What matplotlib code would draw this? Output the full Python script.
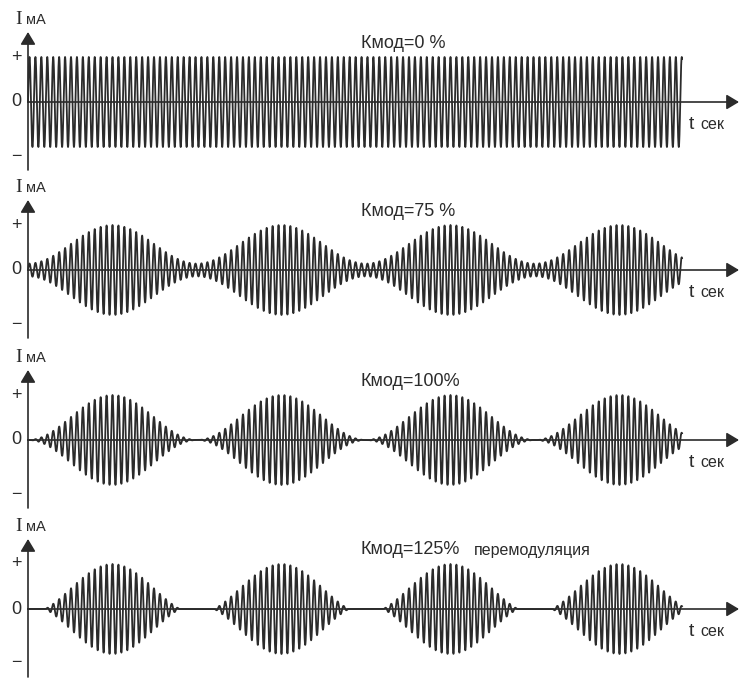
import numpy as np
import matplotlib
matplotlib.use("Agg")
import matplotlib.pyplot as plt

# modulation depth of each trace (fraction) and its caption
mod_depth = [0.0, 0.75, 1.0, 1.25]
titles = ["Кмод=0 %", "Кмод=75 %", "Кмод=100%", "Кмод=125%"]
title_suffix = ["", "", "", "перемодуляция"]

n_env = 3.87            # envelope periods drawn
carrier_per_env = 28.5  # carrier cycles per envelope period
tick_vals = [1.0, 0.0, -1.2]
tick_text = ["+", "0", "\u2212"]

W, H = 740, 687
zero_px = [102, 270, 440, 609]   # baseline of each trace, px from top
x0_px, x1_px = 28, 682
amp_px = 45.0
band_up, band_dn = 102, 68

ink = "#2b2b2b"
plt.rcParams["font.family"] = ["Liberation Sans", "DejaVu Sans"]

fig = plt.figure(figsize=(W / 100, H / 100), dpi=100)
px_per_t = (x1_px - x0_px) / n_env

t = np.linspace(0, n_env, 40000)


def px_x(px):
    return (px - x0_px) / px_per_t


arrow = dict(arrowstyle="-|>,head_length=0.5,head_width=0.3", color=ink,
             lw=1.2, mutation_scale=15, shrinkA=0, shrinkB=0)

for i, m in enumerate(mod_depth):
    z = zero_px[i]
    ax = fig.add_axes([0, 1 - (z + band_dn) / H, 1, (band_up + band_dn) / H])
    ax.set_xlim(px_x(0), px_x(W))
    ax.set_ylim(-band_dn / amp_px, band_up / amp_px)
    ax.axis("off")

    env = np.clip(1 - m * np.cos(2 * np.pi * t), 0, None) / (1 + m)
    sig = env * np.sin(2 * np.pi * carrier_per_env * t)
    ax.plot(t, sig, color=ink, lw=1.3)

    # axes with arrowheads
    ax.annotate("", xy=(px_x(739), 0), xytext=(0, 0), arrowprops=arrow)
    ax.annotate("", xy=(0, 70 / amp_px), xytext=(0, -band_dn / amp_px),
                arrowprops=arrow)

    for v, s in zip(tick_vals, tick_text):
        ax.text(px_x(16), v, s, ha="center", va="center", fontsize=13,
                color=ink)

    ax.text(px_x(19), 78 / amp_px, "I", ha="center", va="baseline",
            fontsize=14, family="Liberation Serif", color=ink)
    ax.text(px_x(26), 78 / amp_px, "мА", ha="left", va="baseline",
            fontsize=10.5, color=ink)

    ax.text(px_x(689), -27 / amp_px, "t", ha="left", va="baseline",
            fontsize=14, color=ink)
    ax.text(px_x(700), -27 / amp_px, "сек", ha="left", va="baseline",
            fontsize=11.5, color=ink)

    ax.text(px_x(361), 59 / amp_px, titles[i], ha="left", va="center",
            fontsize=13, color=ink)
    if title_suffix[i]:
        ax.text(px_x(474), 58 / amp_px, title_suffix[i], ha="left",
                va="center", fontsize=11.5, color=ink)

fig.savefig("out.png", dpi=100, facecolor="white")
